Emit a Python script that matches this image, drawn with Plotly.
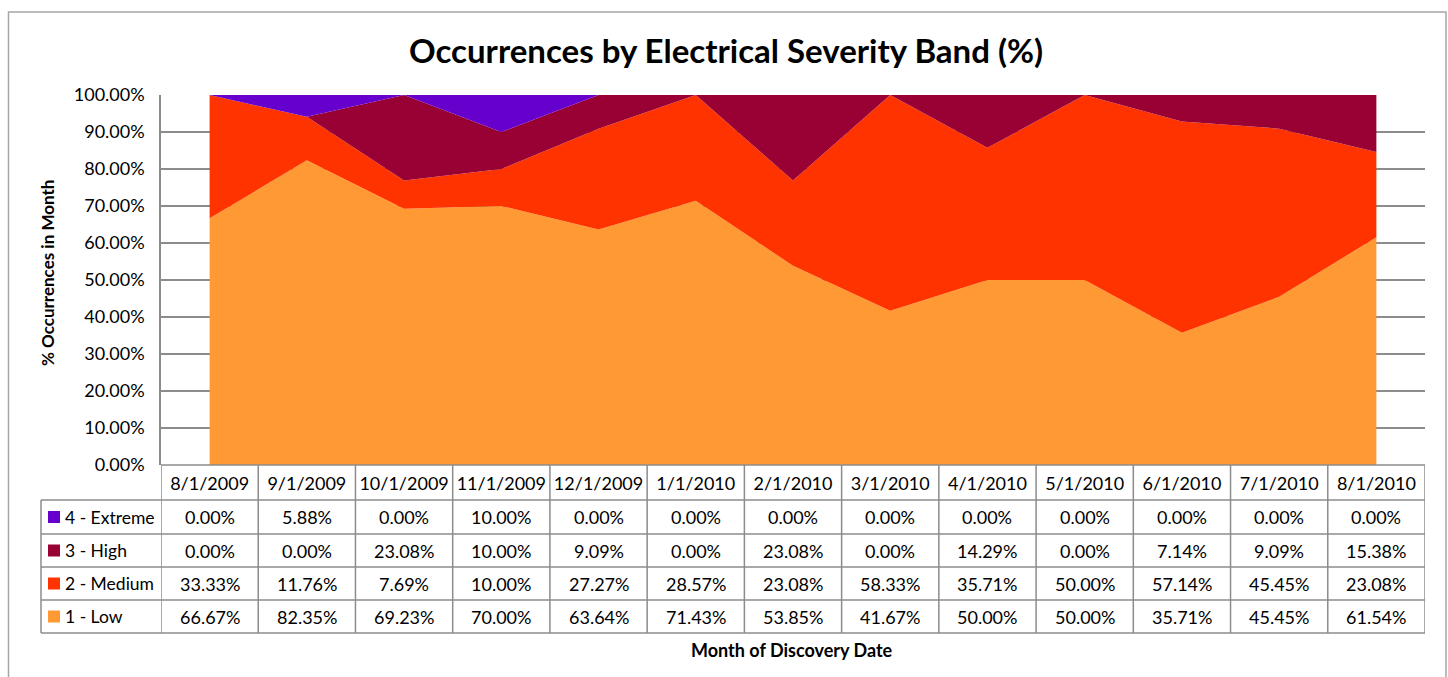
import plotly.graph_objects as go

months = ["8/1/2009", "9/1/2009", "10/1/2009", "11/1/2009", "12/1/2009", "1/1/2010",
          "2/1/2010", "3/1/2010", "4/1/2010", "5/1/2010", "6/1/2010", "7/1/2010", "8/1/2010"]
extreme = [0.00, 5.88, 0.00, 10.00, 0.00, 0.00, 0.00, 0.00, 0.00, 0.00, 0.00, 0.00, 0.00]
high = [0.00, 0.00, 23.08, 10.00, 9.09, 0.00, 23.08, 0.00, 14.29, 0.00, 7.14, 9.09, 15.38]
medium = [33.33, 11.76, 7.69, 10.00, 27.27, 28.57, 23.08, 58.33, 35.71, 50.00, 57.14, 45.45, 23.08]
low = [66.67, 82.35, 69.23, 70.00, 63.64, 71.43, 53.85, 41.67, 50.00, 50.00, 35.71, 45.45, 61.54]

series_names = ["4 - Extreme", "3 - High", "2 - Medium", "1 - Low"]
series_values = [extreme, high, medium, low]
series_colors = ["#6600CC", "#990033", "#FF3300", "#FF9933"]
y_ticks = [0, 10, 20, 30, 40, 50, 60, 70, 80, 90, 100]

title_text = "Occurrences by Electrical Severity Band (%)"
x_title = "Month of Discovery Date"
y_title = "% Occurrences in Month"

FONT = "Lato, Carlito, 'Liberation Sans', sans-serif"
GRID = "#8C8C8C"

W, H = 1448, 677
L, R, T, B = 161, 1425, 95, 465  # plot area in pixels


def px(x):
    return (x - L) / (R - L)


def py(y):
    return (B - y) / (B - T)


fig = go.Figure()
# stacked from bottom: Low, Medium, High, Extreme
for name, vals, col in list(zip(series_names, series_values, series_colors))[::-1]:
    fig.add_trace(go.Scatter(
        x=months, y=vals, name=name, mode="none",
        stackgroup="one", groupnorm="percent",
        fillcolor=col, line=dict(width=0), showlegend=False,
    ))

shapes = []
annotations = []

# outer chart border
shapes.append(dict(type="rect", xref="paper", yref="paper",
                   x0=px(8.5), x1=px(1446), y0=py(12), y1=py(700),
                   line=dict(color="#A6A6A6", width=1.5), layer="below"))

# table rows
row_edges = [465, 500, 534, 567, 600, 633]
shapes.append(dict(type="line", xref="paper", yref="paper",
                   x0=px(L), x1=px(R), y0=py(465), y1=py(465),
                   line=dict(color=GRID, width=1.5)))
for ye in row_edges[1:]:
    shapes.append(dict(type="line", xref="paper", yref="paper",
                       x0=px(41), x1=px(R), y0=py(ye), y1=py(ye),
                       line=dict(color=GRID, width=1.5)))
# column boundaries from the category axis
for i in range(len(months) + 1):
    shapes.append(dict(type="line", xref="x", yref="paper",
                       x0=i - 0.5, x1=i - 0.5, y0=py(465), y1=py(633),
                       line=dict(color=GRID, width=1.5)))
shapes.append(dict(type="line", xref="paper", yref="paper",
                   x0=px(41), x1=px(41), y0=py(500), y1=py(633),
                   line=dict(color=GRID, width=1.5)))

# table body
for r, (name, vals, col) in enumerate(zip(series_names, series_values, series_colors)):
    yc = (row_edges[r + 1] + row_edges[r + 2]) / 2
    shapes.append(dict(type="rect", xref="paper", yref="paper",
                       x0=px(48), x1=px(60), y0=py(yc - 6), y1=py(yc + 6),
                       fillcolor=col, line=dict(width=0)))
    annotations.append(dict(xref="paper", yref="paper", x=px(63), y=py(yc),
                            text=name, showarrow=False, xanchor="left", yanchor="middle",
                            font=dict(family=FONT, size=17.5, color="black")))
    for m, v in zip(months, vals):
        annotations.append(dict(xref="x", yref="paper", x=m, y=py(yc),
                                text=f"{v:.2f}%", showarrow=False,
                                xanchor="center", yanchor="middle",
                                font=dict(family=FONT, size=18, color="black")))

# titles
annotations.append(dict(xref="paper", yref="paper", x=px(726), y=py(50),
                        text=f"<b>{title_text}</b>", showarrow=False,
                        xanchor="center", yanchor="middle",
                        font=dict(family=FONT, size=33, color="black")))
annotations.append(dict(xref="paper", yref="paper", x=px(792), y=py(650),
                        text=f"<b>{x_title}</b>", showarrow=False,
                        xanchor="center", yanchor="middle",
                        font=dict(family=FONT, size=18, color="black")))
annotations.append(dict(xref="paper", yref="paper", x=px(47), y=py(273),
                        text=f"<b>{y_title}</b>", showarrow=False, textangle=-90,
                        xanchor="center", yanchor="middle",
                        font=dict(family=FONT, size=17, color="black")))

fig.update_layout(
    width=W, height=H, autosize=False,
    margin=dict(l=L, r=W - R, t=T, b=H - B, pad=0),
    paper_bgcolor="white", plot_bgcolor="white",
    font=dict(family=FONT, size=18, color="black"),
    shapes=shapes, annotations=annotations,
    xaxis=dict(type="category", range=[-0.5, len(months) - 0.5],
               showgrid=False, showline=False, zeroline=False, ticks="",
               tickfont=dict(family=FONT, size=18, color="black"),
               ticklabelstandoff=6),
    yaxis=dict(range=[0, 100], tickvals=y_ticks,
               ticktext=[f"{v:.2f}%" for v in y_ticks],
               showgrid=True, gridcolor=GRID, gridwidth=1.5,
               showline=True, linecolor=GRID, linewidth=1.5, zeroline=False,
               ticks="", ticklabelstandoff=11,
               tickfont=dict(family=FONT, size=18, color="black")),
)

fig.write_html("out.html")
